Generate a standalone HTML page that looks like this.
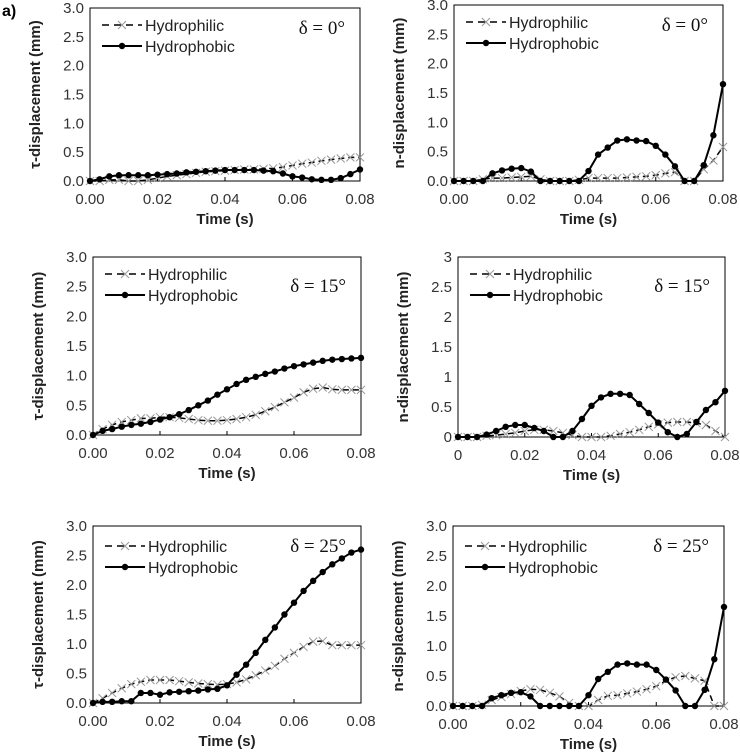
<!DOCTYPE html>
<html><head><meta charset="utf-8"><style>
html,body{margin:0;padding:0;background:#fff;}
svg{display:block;font-family:"Liberation Sans",sans-serif;}
</style></head><body>
<svg id="fig" width="740" height="755" viewBox="0 0 740 755">
<text x="2" y="16" font-size="16" font-weight="bold">a)</text>
</svg>
<script>
const categoriesCount = 29;
const timeMax = 0.08;
const tlPhobic = [0,0.03,0.08,0.1,0.1,0.1,0.1,0.11,0.12,0.13,0.15,0.16,0.17,0.18,0.19,0.19,0.19,0.19,0.18,0.17,0.13,0.08,0.06,0.03,0.02,0.02,0.05,0.12,0.2];
const tlPhilic = [0,0,0.02,0.02,0,0,0.02,0.05,0.08,0.1,0.12,0.14,0.16,0.17,0.18,0.19,0.2,0.2,0.21,0.22,0.24,0.27,0.3,0.32,0.35,0.37,0.39,0.41,0.41];
const trPhobic = [0,0,0,0,0.13,0.18,0.21,0.22,0.16,0,0,0,0,0,0.17,0.45,0.57,0.69,0.71,0.69,0.68,0.6,0.45,0.25,0,0,0.27,0.78,1.65];
const trPhilic = [0,0,0,0.03,0.05,0.05,0.06,0.07,0.08,0.03,0,0,0,0.02,0.05,0.05,0.05,0.05,0.06,0.07,0.08,0.1,0.13,0.15,0,0,0.2,0.35,0.58];
const mlPhobic = [0,0.07,0.1,0.14,0.17,0.19,0.22,0.26,0.3,0.35,0.42,0.5,0.58,0.68,0.77,0.86,0.93,0.98,1.03,1.07,1.12,1.16,1.19,1.22,1.25,1.27,1.28,1.29,1.3];
const mlPhilic = [0,0.1,0.17,0.22,0.25,0.28,0.28,0.3,0.3,0.29,0.27,0.25,0.24,0.24,0.25,0.27,0.3,0.34,0.4,0.47,0.55,0.63,0.72,0.78,0.8,0.77,0.76,0.76,0.76];
const mrPhobic = [0,0,0,0.04,0.1,0.17,0.2,0.2,0.15,0.1,0,0,0.1,0.3,0.52,0.66,0.72,0.72,0.7,0.55,0.4,0.24,0.08,0,0.05,0.25,0.45,0.58,0.77];
const mrPhilic = [0,0,0,0.02,0.03,0.05,0.07,0.1,0.12,0.12,0.1,0.07,0.03,0,0,0,0.02,0.05,0.08,0.12,0.17,0.21,0.24,0.25,0.25,0.23,0.2,0.1,0];
const blPhobic = [0,0.02,0.02,0.03,0.03,0.17,0.17,0.14,0.18,0.19,0.2,0.21,0.23,0.24,0.3,0.48,0.65,0.85,1.07,1.28,1.5,1.7,1.9,2.07,2.22,2.35,2.45,2.55,2.6];
const blPhilic = [0,0.08,0.17,0.25,0.32,0.36,0.39,0.39,0.39,0.37,0.35,0.33,0.32,0.31,0.32,0.35,0.4,0.47,0.55,0.63,0.75,0.85,0.95,1.04,1.05,0.98,0.98,0.98,0.98];
const brPhobic = [0,0,0,0,0.13,0.18,0.22,0.23,0.16,0,0,0,0,0,0.18,0.45,0.57,0.69,0.71,0.69,0.69,0.6,0.44,0.26,0,0,0.27,0.78,1.65];
const brPhilic = [0,0,0,0.02,0.1,0.15,0.2,0.25,0.28,0.27,0.22,0.16,0.05,0,0,0.1,0.17,0.18,0.21,0.24,0.28,0.33,0.42,0.48,0.5,0.46,0.42,0,0];
const yTicksA = ["0.0","0.5","1.0","1.5","2.0","2.5","3.0"];
const yTicksB = ["0","0.5","1","1.5","2","2.5","3"];
const xTicksA = ["0.00","0.02","0.04","0.06","0.08"];
const xTicksB = ["0","0.02","0.04","0.06","0.08"];

const NS="http://www.w3.org/2000/svg";
const svg=document.getElementById('fig');
function mk(tag,attrs,parent,text){const e=document.createElementNS(NS,tag);for(const k in attrs)e.setAttribute(k,attrs[k]);if(text!==undefined)e.textContent=text;(parent||svg).appendChild(e);return e;}

const panels=[
 {id:'tl',x0:90,x1:360,y0:8,y1:181,yt:yTicksA,xt:xTicksA,ylab:'τ-displacement (mm)',d:'δ = 0°',phob:tlPhobic,phil:tlPhilic},
 {id:'tr',x0:454,x1:723,y0:5,y1:181,yt:yTicksA,xt:xTicksA,ylab:'n-displacement (mm)',d:'δ = 0°',phob:trPhobic,phil:trPhilic},
 {id:'ml',x0:93,x1:361,y0:257,y1:435,yt:yTicksA,xt:xTicksA,ylab:'τ-displacement (mm)',d:'δ = 15°',phob:mlPhobic,phil:mlPhilic},
 {id:'mr',x0:458,x1:725,y0:257,y1:437,yt:yTicksB,xt:xTicksB,ylab:'n-displacement (mm)',d:'δ = 15°',phob:mrPhobic,phil:mrPhilic},
 {id:'bl',x0:93,x1:361,y0:526,y1:703,yt:yTicksA,xt:xTicksA,ylab:'τ-displacement (mm)',d:'δ = 25°',phob:blPhobic,phil:blPhilic},
 {id:'br',x0:453,x1:724,y0:526,y1:706,yt:yTicksA,xt:xTicksA,ylab:'n-displacement (mm)',d:'δ = 25°',phob:brPhobic,phil:brPhilic}
];

function xMarker(g,x,y,s){mk('path',{d:`M${x-s},${y-s}L${x+s},${y+s}M${x-s},${y+s}L${x+s},${y-s}`,stroke:'#999','stroke-width':1,fill:'none'},g);}

panels.forEach(p=>{
 const g=mk('g',{});
 
 
 const xs=t=>p.x0+(t/timeMax)*(p.x1-p.x0);
 const ys=v=>p.y1-(v/3)*(p.y1-p.y0);
 const frame=mk('rect',{x:p.x0,y:p.y0,width:p.x1-p.x0,height:p.y1-p.y0,fill:'none',stroke:'#000','stroke-width':1},g);
 
 
 p.yt.forEach((lab,i)=>{
  const y=ys(i*0.5);
  const t=mk('text',{x:p.x0-6,y:y+5,'font-size':15,'text-anchor':'end',fill:'#333'},g,lab);
  
  
 });
 p.xt.forEach((lab,i)=>{
  const x=xs(i*0.02);
  mk('line',{x1:x,x2:x,y1:p.y1,y2:p.y1-4,stroke:'#000'},g);
  const t=mk('text',{x:x,y:p.y1+23,'font-size':15,'text-anchor':'middle',fill:'#333'},g,lab);
  
  
 });
 const xt=mk('text',{x:(p.x0+p.x1)/2,y:p.y1+43,'font-size':15,'font-weight':'bold','text-anchor':'middle',fill:'#222'},g,'Time (s)');
 
 
 const cy=(p.y0+p.y1)/2, cx=p.x0-50;
 const yt=mk('text',{x:cx,y:cy,'font-size':15,'font-weight':'bold','text-anchor':'middle',fill:'#222',transform:`rotate(-90 ${cx} ${cy})`},g,p.ylab);
 
 
 const n=p.phil.length, dt=timeMax/(n-1);
 const phil=mk('polyline',{points:p.phil.map((v,i)=>xs(i*dt)+','+ys(v)).join(' '),fill:'none',stroke:'#000','stroke-width':1.5,'stroke-dasharray':'6,4'},g);
 
 
 p.phil.forEach((v,i)=>xMarker(g,xs(i*dt),ys(v),4));
 const phob=mk('polyline',{points:p.phob.map((v,i)=>xs(i*dt)+','+ys(v)).join(' '),fill:'none',stroke:'#000','stroke-width':2},g);
 
 
 p.phob.forEach((v,i)=>{const c=mk('circle',{cx:xs(i*dt),cy:ys(v),r:3.2,fill:'#000'},g);
  
  });
 const lg=mk('g',{},g);
 
 
 const lx=p.x0+12, ly1=p.y0+(p.id==='bl'||p.id==='br'?20:17), ly2=ly1+21;
 mk('line',{x1:lx,x2:lx+40,y1:ly1,y2:ly1,stroke:'#000','stroke-width':1.5,'stroke-dasharray':'7,5'},lg);
 xMarker(lg,lx+20,ly1,4);
 const t1=mk('text',{x:lx+43,y:ly1+6,'font-size':16,fill:'#222'},lg,'Hydrophilic');
 
 
 mk('line',{x1:lx,x2:lx+40,y1:ly2,y2:ly2,stroke:'#000','stroke-width':2},lg);
 mk('circle',{cx:lx+20,cy:ly2,r:3.2,fill:'#000'},lg);
 const t2=mk('text',{x:lx+43,y:ly2+6,'font-size':16,fill:'#222'},lg,'Hydrophobic');
 
 
 const dl=mk('text',{x:p.x1-15,y:p.y0+(p.id.startsWith('m')?35:26),'font-size':19,'text-anchor':'end','font-family':'"Liberation Serif",serif',fill:'#111'},g,p.d);
 
 
});
</script>
</body></html>
